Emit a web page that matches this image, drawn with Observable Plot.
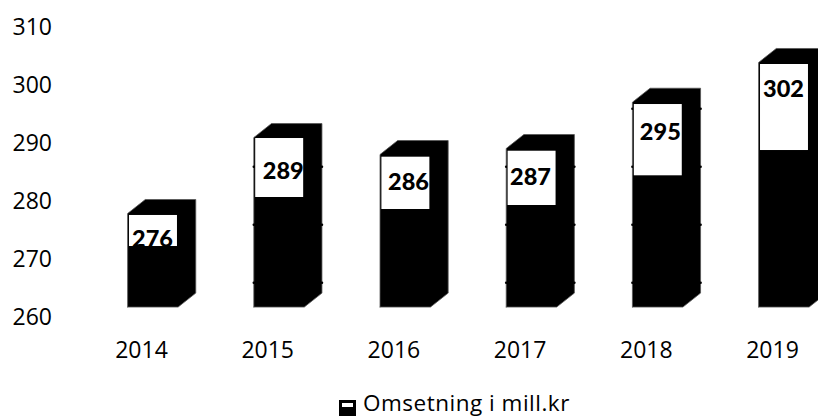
<!DOCTYPE html>
<html><head><meta charset="utf-8">
<script src="https://cdn.jsdelivr.net/npm/d3@7"></script>
<script src="https://cdn.jsdelivr.net/npm/@observablehq/plot@0.6"></script>
<style>
html,body{margin:0;padding:0;background:#fff;overflow:hidden}
#legend{position:absolute;left:339px;top:390px;font:22.5px "Open Sans",sans-serif;letter-spacing:.5px;color:#000;line-height:26px;white-space:nowrap}
#legend i{position:absolute;left:0;top:10px;width:17px;height:16px;background:#000}
#legend i::after{content:"";position:absolute;left:3px;right:3px;top:3px;height:4px;background:#fff}
#legend span{position:absolute;left:24px;top:0}
</style></head><body>
<div id="chart"></div>
<div id="legend"><i></i><span>Omsetning i mill.kr</span></div>
<script>
const years = [2014, 2015, 2016, 2017, 2018, 2019];
const labels = [276, 289, 286, 287, 295, 302];
const tops = [277.93, 291.03, 288.1, 289.14, 297.12, 303.97];
const boxTops = [277.59, 290.86, 287.64, 288.67, 296.72, 303.62];
const boxBottoms = [272.24, 280.69, 278.62, 279.31, 284.43, 288.79];
const labelYs = [273.53, 285.17, 283.28, 284.14, 291.9, 299.31];
const labelXs = [0.087, 0.123, 0.116, 0.082, 0.111, 0.087];
const yTicks = [260, 270, 280, 290, 300, 310];
const nubYears = [2015, 2017, 2018];
const nubValues = [266, 276, 286, 296];
const base = 261.8;
const frontLeft = -0.11, frontRight = 0.29, boxLeft = -0.095, boxRight = 0.285, depthX = 0.14, depthY = 2.41;
const xMin = 2014 - 141 / 126.2, xMax = 2014 + (818 - 141) / 126.2;

const silhouette = years.flatMap((year, i) => [
  {year, x: year + frontLeft, y: base},
  {year, x: year + frontLeft, y: tops[i]},
  {year, x: year + frontLeft + depthX, y: tops[i] + depthY},
  {year, x: year + frontRight + depthX, y: tops[i] + depthY},
  {year, x: year + frontRight + depthX, y: base + depthY},
  {year, x: year + frontRight, y: base},
  {year, x: year + frontLeft, y: base}
]);
const rows = years.map((year, i) => ({year, label: labels[i], y1: boxBottoms[i], y2: boxTops[i], ly: labelYs[i], lx: year + labelXs[i]}));
const nubs = nubYears.flatMap(year => nubValues
  .filter(v => v < tops[years.indexOf(year)])
  .flatMap(v => [{x: year + frontLeft, y: v}, {x: year + frontRight + depthX, y: v}]));

const chart = Plot.plot({
  width: 818, height: 372,
  marginLeft: 0, marginRight: 0, marginTop: 0, marginBottom: 0,
  x: {domain: [xMin, xMax], range: [0, 818], axis: null},
  y: {domain: [260, 310], range: [317, 27], axis: null},
  style: {background: "#fff", fontFamily: "'Open Sans', sans-serif"},
  marks: [
    Plot.line(silhouette, {x: "x", y: "y", z: "year", fill: "#000", stroke: "#555", strokeWidth: 0.8}),
    Plot.dot(nubs, {x: "x", y: "y", r: 1.3, fill: "#000"}),
    Plot.rect(rows, {x1: d => d.year + boxLeft, x2: d => d.year + boxRight, y1: "y1", y2: "y2", fill: "#fff"}),
    Plot.text(rows, {x: "lx", y: "ly", text: "label", fill: "#000", fontSize: 23.5, fontWeight: 900, fontFamily: "Lato, sans-serif"}),
    Plot.text(yTicks, {x: () => xMin + 12 / 126.2, y: d => d, text: d => String(d), textAnchor: "start", fontSize: 23, fill: "#000"}),
    Plot.text(years, {x: d => d, y: () => 254.3, text: d => String(d), fontSize: 23, fill: "#000"})
  ]
});
document.getElementById("chart").append(chart);
</script></body></html>
